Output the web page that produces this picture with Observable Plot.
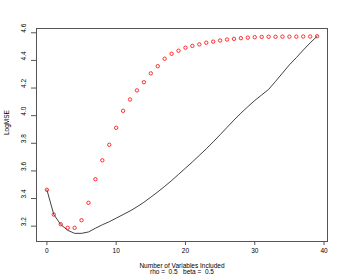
<!DOCTYPE html>
<html>
<head>
<meta charset="utf-8">
<script src="https://cdn.jsdelivr.net/npm/d3@7"></script>
<script src="https://cdn.jsdelivr.net/npm/@observablehq/plot@0.6"></script>
<style>
  html, body { margin: 0; padding: 0; background: #fff; }
  #chart svg { display: block; font-family: "Liberation Sans", Arial, sans-serif; }
</style>
</head>
<body>
<div id="chart"></div>
<script>
// Number of variables included
const nVars = d3.range(0, 40);
// Log MSE, red circles
const redLogMSE = [
  3.463, 3.284, 3.214, 3.188, 3.188, 3.243, 3.369, 3.540, 3.677, 3.789,
  3.912, 4.035, 4.117, 4.183, 4.242, 4.306, 4.358, 4.412, 4.448, 4.470,
  4.492, 4.505, 4.516, 4.528, 4.536, 4.544, 4.551, 4.556, 4.561, 4.565,
  4.568, 4.570, 4.571, 4.571, 4.572, 4.572, 4.572, 4.573, 4.573, 4.575
];
// Log MSE, black line
const lineLogMSE = [
  3.463, 3.284, 3.212, 3.170, 3.148, 3.148, 3.158, 3.185, 3.210, 3.232,
  3.258, 3.284, 3.310, 3.340, 3.373, 3.410, 3.448, 3.488, 3.530, 3.575,
  3.620, 3.665, 3.712, 3.760, 3.810, 3.862, 3.915, 3.968, 4.018, 4.065,
  4.110, 4.150, 4.190, 4.248, 4.308, 4.368, 4.420, 4.475, 4.527, 4.575
];
const xTicks = [0, 10, 20, 30, 40];
const yTicks = [3.2, 3.4, 3.6, 3.8, 4.0, 4.2, 4.4, 4.6];
const xTitle = "Number of Variables Included";
const subTitle = "rho =\u00a0 0.5 \u00a0 beta =\u00a0 0.5";
const yTitle = "LogMSE";

const redData = nVars.map((k, i) => ({k, v: redLogMSE[i]}));
const lineData = nVars.map((k, i) => ({k, v: lineLogMSE[i]}));

const chart = Plot.plot({
  width: 346,
  height: 277,
  marginLeft: 36,
  marginRight: 19,
  marginTop: 28,
  marginBottom: 36,
  style: {fontFamily: "Liberation Sans, Arial, sans-serif", fontSize: "6.5px", color: "#000", background: "#fff"},
  x: {domain: [-1.5, 40.5]},
  y: {domain: [3.089, 4.631]},
  marks: [
    Plot.frame({stroke: "#555", strokeWidth: 1}),
    Plot.axisX({ticks: xTicks, tickSize: 4, tickPadding: 3, label: null, stroke: "#555", fontSize: 6.5}),
    Plot.axisY({ticks: yTicks, tickSize: 5, text: null, label: null, stroke: "#555"}),
    Plot.text(yTicks, {y: d => d, text: d3.format(".1f"), frameAnchor: "left", dx: -13, rotate: -90, fontSize: 6.5}),
    Plot.text([xTitle], {frameAnchor: "bottom", dy: 26, fontSize: 6.5}),
    Plot.text([subTitle], {frameAnchor: "bottom", dy: 32.5, fontSize: 6.5}),
    Plot.text([yTitle], {frameAnchor: "left", dx: -29.5, rotate: -90, fontSize: 6.5}),
    Plot.line(lineData, {x: "k", y: "v", stroke: "#111", strokeWidth: 0.8}),
    Plot.dot(redData, {x: "k", y: "v", stroke: "#ff0000", strokeWidth: 0.8, r: 1.7})
  ]
});
document.getElementById("chart").appendChild(chart);
</script>
</body>
</html>
